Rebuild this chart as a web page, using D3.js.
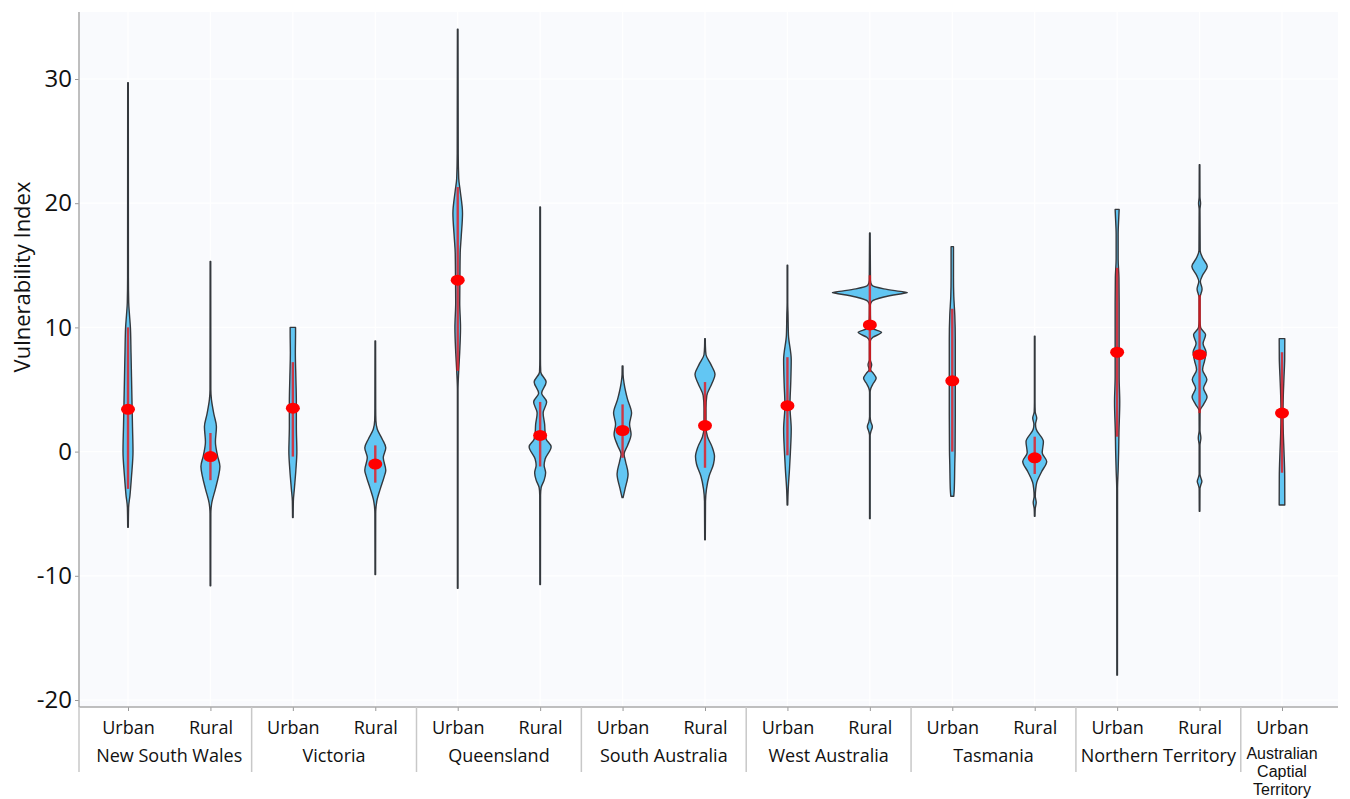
<!DOCTYPE html>
<html>
<head>
<meta charset="utf-8">
<script src="https://cdn.jsdelivr.net/npm/d3@7"></script>
<style>
  body { margin: 0; background: #fff; }
  svg { font-family: "Open Sans", sans-serif; }
</style>
</head>
<body>
<svg id="chart" width="1350" height="799"></svg>
<script>
// x axis categories
let groupNames = ["New South Wales", "Victoria", "Queensland", "South Australia",
  "West Australia", "Tasmania", "Northern Territory", "Australian\nCaptial\nTerritory"];
let groupSizes = [2, 2, 2, 2, 2, 2, 2, 1];
let areaTypes = ["Urban", "Rural", "Urban", "Rural", "Urban", "Rural", "Urban", "Rural",
  "Urban", "Rural", "Urban", "Rural", "Urban", "Rural", "Urban"];
let yTicks = [-20, -10, 0, 10, 20, 30];

// red dot and red bar of each violin
let medians = [3.4, -0.4, 3.5, -1.0, 13.8, 1.3, 1.7, 2.1, 3.7, 10.2, 5.7, -0.5, 8.0, 7.8, 3.1];
let redLow  = [-3.0, -2.3, -0.4, -2.5, 6.5, -1.2, -0.5, -1.3, -0.3, 6.4, 0.0, -1.8, 1.2, 3.1, -1.7];
let redHigh = [10.0, 1.5, 7.2, 0.5, 21.3, 4.0, 3.8, 5.6, 7.6, 14.2, 11.5, 1.2, 14.8, 12.6, 8.0];

// violin outlines: [index value, density]
let nswUrban = [[-6.1,0.3],[-4.5,0.6],[-3.5,2],[-2,3.5],[0,5],[2,4.5],[4,4],[6,3.5],[8,3],[10,2.4],[11,1.5],[12,0.7],[14,0.4],[29.7,0.3]];
let nswRural = [[-10.8,0.3],[-5,0.4],[-4.2,1.2],[-3,5],[-2,8],[-1.2,9.5],[-0.3,7],[0.8,5],[2.0,6],[3.0,3.5],[4.2,1],[5,0.4],[15.3,0.3]];
let vicUrban = [[-5.3,0.3],[-4,0.5],[-3,1.5],[-1.5,3],[0,4],[2,3.5],[4,3.5],[6,3],[8,2.5],[9.5,2.7],[10,2.7]];
let vicRural = [[-9.9,0.3],[-5,0.4],[-4,1.5],[-3,5],[-2,9],[-1.5,10.5],[-0.5,8],[0.3,10.5],[1,7],[1.8,2],[2.5,0.6],[3.5,0.4],[8.9,0.3]];
let qldUrban = [[-11,0.3],[5,0.3],[6.5,1],[8,2],[10,2.8],[12,2],[14,2.2],[16,2.5],[17.3,3.5],[19.2,4.8],[21,2.5],[22,1],[24,0.5],[34,0.3]];
let qldRural = [[-10.7,0.3],[-3.5,0.4],[-2.9,1],[-2.3,4],[-1.7,5.5],[-1.1,4],[-0.6,5],[0.4,11],[1.0,6],[1.5,5],[2.2,4.5],[3.1,3],[4.0,6.5],[4.7,1.5],[5.6,6],[6.4,0.6],[7.5,0.3],[19.7,0.3]];
let saUrban  = [[-3.7,0.5],[-3,2.5],[-1.8,5.5],[-0.8,3],[-0.2,1.5],[0.5,5],[1.4,8.5],[2.2,7],[3.1,9],[4.2,5],[5.5,1.5],[6.2,0.5],[6.9,0.4]];
let saRural  = [[-7.1,0.3],[-4,0.5],[-3,1.5],[-2,4],[-1,8.5],[-0.4,9.5],[0.4,7],[1.2,2.5],[2,1],[3.5,1],[4.5,1.8],[5.5,7],[6.2,10],[7,6],[7.8,1],[8.5,0.4],[9.1,0.3]];
let waUrban  = [[-4.3,0.3],[-3,0.8],[-1.5,2],[0,3],[1.8,3.8],[3.7,2.5],[5.5,3.3],[7.4,3.8],[9.4,1],[11,0.6],[12,0.3],[15,0.3]];
let waRural  = [[-5.4,0.3],[1.3,0.3],[1.6,1],[2.0,2.5],[2.4,1],[2.8,0.3],[4.8,0.3],[5.1,1],[5.5,3.5],[5.9,6.3],[6.3,3.5],[6.6,0.8],[7.0,1.8],[7.4,0.5],[8.9,0.5],[9.2,3],[9.6,11.7],[9.9,3],[10.2,0.8],[11.8,0.5],[12.1,2],[12.45,14],[12.75,34],[12.8,37.5],[12.85,34],[13.1,14],[13.4,2],[13.8,0.6],[17.6,0.3]];
let tasUrban = [[-3.6,1.5],[-3,2],[-1,2.5],[0,2.8],[3,3],[6,3],[9,3],[11,2.5],[12.5,1.5],[14,1.2],[16.5,1.2]];
let tasRural = [[-5.2,0.3],[-4.6,0.5],[-4.1,1.5],[-3.6,0.6],[-3,1],[-2.5,2],[-1.6,7],[-0.8,12],[-0.1,7.5],[0.8,8.7],[1.8,1.5],[2.2,0.8],[2.7,2],[3.2,0.5],[4,0.3],[9.3,0.3]];
let ntUrban  = [[-18,0.3],[-3,0.4],[-1.5,1],[0,1.5],[1.5,1.8],[4,2.6],[6,2],[8,2],[10,2],[12,2],[14,1.8],[15.5,1],[17.5,1],[18.8,1.6],[19.5,2]];
let ntRural  = [[-4.8,0.3],[-3,0.4],[-2.7,1.2],[-2.4,2.3],[-2.1,1.2],[-1.8,0.4],[0.5,0.4],[1.1,1.3],[1.7,0.4],[3.3,0.5],[3.8,4],[4.4,7.5],[5.1,4],[5.8,7.3],[6.6,3],[7.3,5],[8.0,6.5],[8.7,3.5],[9.4,6],[10.0,1],[10.6,0.5],[12.4,0.5],[13.1,2.5],[13.7,0.8],[14.2,3],[14.9,7.7],[15.6,3],[16.2,0.6],[19.5,0.4],[20.0,1],[20.5,0.4],[23.1,0.3]];
let actUrban = [[-4.3,2.8],[-2,2.7],[0,2],[1.5,1.3],[3,1],[4.5,1.3],[6,2],[7.5,2.7],[9.1,2.8]];

let profiles = [nswUrban, nswRural, vicUrban, vicRural, qldUrban, qldRural, saUrban, saRural,
  waUrban, waRural, tasUrban, tasRural, ntUrban, ntRural, actUrban];

let svg = d3.select("#chart");

// plot area in pixels
let plot = {left: 79, right: 1338, top: 12, bottom: 707};

let x = d3.scalePoint()
  .domain(d3.range(areaTypes.length))
  .range([128, 1282]);

let y = d3.scaleLinear()
  .domain([-20, 30])
  .range([700, 79]);

// density -> half width in px
let w = d3.scaleLinear().domain([0, 40]).range([0, 40]);

// background
svg.append("rect")
  .attr("x", plot.left).attr("y", plot.top)
  .attr("width", plot.right - plot.left)
  .attr("height", plot.bottom - plot.top)
  .attr("fill", "#f9fafd");

// grid
let grid = svg.append("g").attr("stroke", "#ffffff").attr("stroke-width", 1.2);
grid.selectAll("line.h").data(yTicks).join("line")
  .attr("x1", plot.left).attr("x2", plot.right)
  .attr("y1", d => y(d)).attr("y2", d => y(d));
grid.selectAll("line.v").data(x.domain()).join("line")
  .attr("x1", d => x(d)).attr("x2", d => x(d))
  .attr("y1", plot.top).attr("y2", plot.bottom);

// violins
let area = d3.area()
  .y(d => y(d[0]))
  .x0(d => -w(d[1]))
  .x1(d => w(d[1]))
  .curve(d3.curveMonotoneY);

let violins = svg.append("g").selectAll("g")
  .data(profiles)
  .join("g")
  .attr("transform", (d, i) => "translate(" + x(i) + ",0)");

violins.append("path")
  .attr("d", d => area([...d].sort((a, b) => a[0] - b[0])))
  .attr("fill", "#62c6f3")
  .attr("stroke", "#34383d")
  .attr("stroke-width", 1.4)
  .attr("stroke-linejoin", "round");

violins.append("line")
  .attr("x1", 0).attr("x2", 0)
  .attr("y1", (d, i) => y(redLow[i]))
  .attr("y2", (d, i) => y(redHigh[i]))
  .attr("stroke", "#e8141a")
  .attr("stroke-opacity", 0.8)
  .attr("stroke-width", 2.4);

violins.append("ellipse")
  .attr("cx", 0)
  .attr("cy", (d, i) => y(medians[i]))
  .attr("rx", 7).attr("ry", 5.5)
  .attr("fill", "#ff0000");

// y axis
let yAxis = d3.axisLeft(y).tickValues(yTicks).tickSize(4).tickPadding(3).tickFormat(d => String(d));
let yGroup = svg.append("g").attr("transform", "translate(" + plot.left + ",0)").call(yAxis);
yGroup.select(".domain").remove();
yGroup.selectAll(".tick line").attr("stroke", "#999");
yGroup.selectAll(".tick text").attr("font-size", 24).attr("fill", "#111").attr("font-family", "Open Sans, sans-serif");

// x axis
let xAxis = d3.axisBottom(x).tickSize(4).tickPadding(10).tickFormat(i => areaTypes[i]);
let xGroup = svg.append("g").attr("transform", "translate(0," + plot.bottom + ")").call(xAxis);
xGroup.select(".domain").remove();
xGroup.selectAll(".tick line").attr("stroke", "#999");
xGroup.selectAll(".tick text").attr("font-size", 18).attr("fill", "#111").attr("font-family", "Open Sans, sans-serif");

// axis lines
svg.append("line")
  .attr("x1", plot.left).attr("x2", plot.left)
  .attr("y1", plot.top).attr("y2", plot.bottom)
  .attr("stroke", "#aaa").attr("stroke-width", 1.5);
svg.append("line")
  .attr("x1", plot.left).attr("x2", plot.right)
  .attr("y1", plot.bottom).attr("y2", plot.bottom)
  .attr("stroke", "#aaa").attr("stroke-width", 1.5);

// group separators and labels
let starts = [];
let acc = 0;
groupSizes.forEach(n => { starts.push(acc); acc += n; });

let sepX = starts.map(s => s === 0 ? plot.left : (x(s - 1) + x(s)) / 2);
svg.append("g").selectAll("line")
  .data(sepX)
  .join("line")
  .attr("x1", d => d).attr("x2", d => d)
  .attr("y1", plot.bottom).attr("y2", 772)
  .attr("stroke", "#c8c8c8").attr("stroke-width", 1.5);

let groupLabels = svg.append("g")
  .attr("fill", "#111").attr("text-anchor", "middle");
groupLabels.selectAll("text")
  .data(groupNames)
  .join("text")
  .attr("x", (d, i) => d3.mean(d3.range(starts[i], starts[i] + groupSizes[i]), k => x(k)))
  .attr("y", d => d.includes("\n") ? 759 : 762)
  .attr("font-size", d => d.includes("\n") ? 16 : 18)
  .attr("font-family", d => d.includes("\n") ? "Liberation Sans, sans-serif" : "Open Sans, sans-serif")
  .each(function(d) {
    let t = d3.select(this);
    let cx = t.attr("x");
    d.split("\n").forEach((line, j) => {
      t.append("tspan").attr("x", cx).attr("dy", j === 0 ? 0 : 18.2).text(line);
    });
  });

// y axis title
svg.append("text")
  .attr("transform", "translate(30,277) rotate(-90)")
  .attr("text-anchor", "middle")
  .attr("font-size", 22)
  .attr("fill", "#111")
  .text("Vulnerability Index");
</script>
</body>
</html>
